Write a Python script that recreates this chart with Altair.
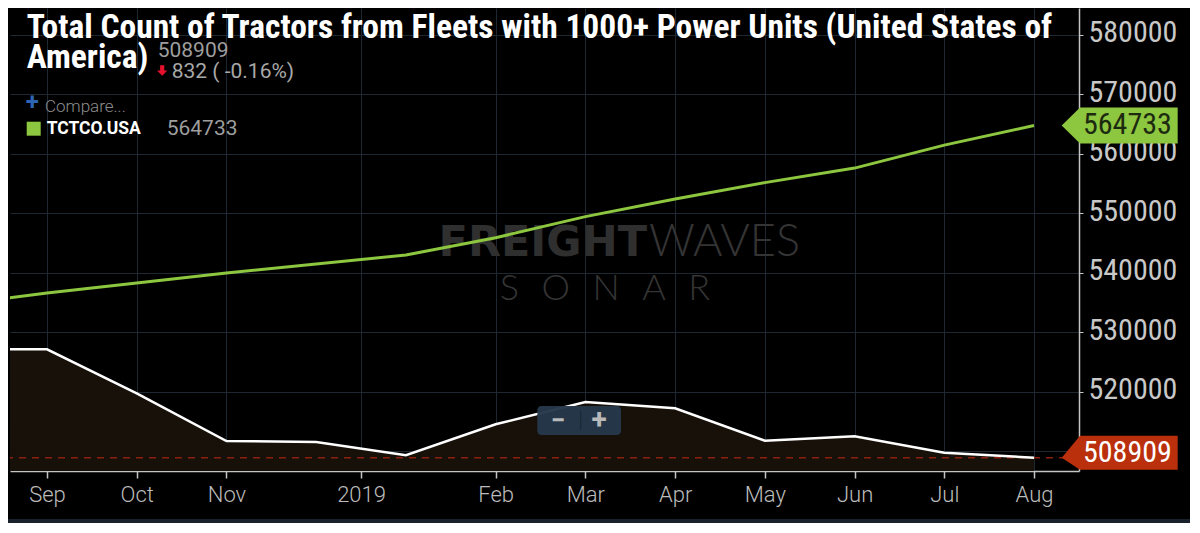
import altair as alt
import pandas as pd

# ---------------- data ----------------
month_labels = ["Aug", "Sep", "Oct", "Nov", "Dec", "Jan", "Feb", "Mar", "Apr", "May", "Jun", "Jul", "Aug"]
month_index = [-1, 0, 1, 2, 3, 4, 5, 6, 7, 8, 9, 10, 11]
main_values = [527130, 527130, 519730, 511710, 511540, 509310, 514520, 518270, 517210, 511760, 512500, 509741, 508909]
tctco_values = [534630, 536590, 538270, 539950, 541460, 542970, 545880, 549430, 552400, 555140, 557580, 561440, 564733]

tick_positions = [0, 1, 2, 3.5, 5, 6, 7, 8, 9, 10, 11]
tick_labels = ["Sep", "Oct", "Nov", "2019", "Feb", "Mar", "Apr", "May", "Jun", "Jul", "Aug"]
y_ticks = [510000, 520000, 530000, 540000, 550000, 560000, 570000, 580000]

title_lines = ["Total Count of Tractors from Fleets with 1000+ Power Units (United States of", "America)"]
compare_series = "TCTCO.USA"

# ---------------- derived ----------------
df = pd.DataFrame({"idx": month_index, "month": month_labels, "main": main_values, "tctco": tctco_values})
last_df = df.tail(1).reset_index(drop=True)
prev_v, last_v = main_values[-2], main_values[-1]
chg = last_v - prev_v
pct = chg / prev_v * 100
change_text = f"{abs(chg)} ( {pct:.2f}%)"

PLOT_W, PLOT_H = 1069, 463
NARROW = "'Liberation Sans Narrow', 'Roboto Condensed', Roboto, sans-serif"
ROBOTO = "Roboto, 'Open Sans', sans-serif"
GRID = "#1d2833"
AXIS_C = "#c4c4c4"

label_expr = ""
for p, l in zip(tick_positions, tick_labels):
    label_expr += f"datum.value == {p} ? '{l}' : "
label_expr += "''"

x_enc = alt.X(
    "idx:Q",
    scale=alt.Scale(domain=[-0.4124, 11.501], nice=False, zero=False),
    axis=alt.Axis(
        values=tick_positions, labelExpr=label_expr, title=None, grid=True, gridColor=GRID,
        domainColor=AXIS_C, domainWidth=1.5, tickColor=AXIS_C, tickSize=7, tickWidth=1.5,
        labelColor="#bcbcbc", labelFont=ROBOTO, labelFontSize=22, labelFontWeight=300,
        labelPadding=6, labelOverlap=False, labelFlush=False,
    ),
)
y_scale = alt.Scale(domain=[506670, 584490], nice=False, zero=False)
y_axis = alt.Axis(
    orient="right", values=y_ticks, format="d", title=None, grid=True, gridColor=GRID,
    domainColor=AXIS_C, domainWidth=1.5, tickColor=AXIS_C, tickSize=4,
    labelColor="#c8c8c8", labelFont=NARROW, labelFontSize=30, labelPadding=5, labelOverlap=False,
    labelFlush=False, labelOffset=-2,
)
y_main = alt.Y("main:Q", scale=y_scale, axis=y_axis)
y_tct = alt.Y("tctco:Q", scale=y_scale, axis=y_axis)

one = pd.DataFrame({"t": [""]})


def label(text, x, y, **kw):
    d = pd.DataFrame({"t": [text]})
    return alt.Chart(d).mark_text(**kw).encode(x=alt.value(x), y=alt.value(y), text="t:N")


layers = []

# area under main series (carries both axes)
area = alt.Chart(df).mark_area(
    clip=True,
    color=alt.Gradient(gradient="linear", x1=1, x2=1, y1=0, y2=1,
                       stops=[alt.GradientStop(color="#171109", offset=0),
                              alt.GradientStop(color="#0b0806", offset=1)]),
).encode(x=x_enc, y=y_main, y2=alt.value(PLOT_H))
layers.append(area)

# watermark
layers.append(label("FREIGHT", 637, 248, align="right", baseline="alphabetic",
                    font="'DejaVu Sans', sans-serif", fontWeight="bold", fontSize=43, color="#2f2f2f"))
layers.append(label("WAVES", 639, 248, align="left", baseline="alphabetic",
                    font="Lato, 'DejaVu Sans', sans-serif", fontWeight=300, fontSize=45, color="#343434"))
layers.append(label("S\u2002\u2009O\u2002\u2009N\u2002\u2009A\u2002\u2009R", 595, 292, align="center",
                    baseline="alphabetic", font="Lato, 'DejaVu Sans', sans-serif", fontWeight=300,
                    fontSize=36, color="#343434"))

# dashed last-value rule
layers.append(alt.Chart(last_df).mark_rule(color="#8b2010", strokeWidth=1.5, strokeDash=[7, 6])
              .encode(y=y_main))

# lines
layers.append(alt.Chart(df).mark_line(clip=True, color="#8dc63f", strokeWidth=3).encode(x=x_enc, y=y_tct))
layers.append(alt.Chart(df).mark_line(clip=True, color="#ffffff", strokeWidth=2.5).encode(x=x_enc, y=y_main))

# zoom buttons
layers.append(alt.Chart(one).mark_rect(cornerRadius=4, color="#25384a", opacity=0.97)
              .encode(x=alt.value(527.3), x2=alt.value(611), y=alt.value(398), y2=alt.value(427)))
layers.append(alt.Chart(one).mark_rule(color="#1a2733", strokeWidth=1)
              .encode(x=alt.value(570.7), y=alt.value(403), y2=alt.value(422)))
layers.append(label("\u2212", 548, 413, align="center", baseline="middle", font=ROBOTO,
                    fontWeight="bold", fontSize=26, color="#b9b9b9"))
layers.append(label("+", 589, 413, align="center", baseline="middle", font=ROBOTO,
                    fontWeight="bold", fontSize=28, color="#b9b9b9"))

# value tags on the right
green_tag = "M -1 0 L -0.684 -0.31 L 1 -0.31 L 1 0.31 L -0.684 0.31 Z"
red_tag = "M -1 0 L -0.684 -0.38 L 1 -0.38 L 1 0.21 L -0.684 0.21 Z"
layers.append(alt.Chart(last_df).mark_point(shape=green_tag, size=13456, filled=True, opacity=1,
                                            color="#8dc63f", strokeWidth=0)
              .encode(x=alt.value(1109.7), y=y_tct))
layers.append(alt.Chart(last_df).mark_text(align="left", baseline="middle", font=NARROW, fontSize=30,
                                           color="#1c2b10", dy=-1)
              .encode(x=alt.value(1073), y=y_tct, text=alt.Text("tctco:Q", format="d")))
layers.append(alt.Chart(last_df).mark_point(shape=red_tag, size=13456, filled=True, opacity=1,
                                            color="#bb300c", strokeWidth=0)
              .encode(x=alt.value(1109.7), y=y_main))
layers.append(alt.Chart(last_df).mark_text(align="left", baseline="middle", font=NARROW, fontSize=30,
                                           color="#ffffff", dy=-5)
              .encode(x=alt.value(1073), y=y_main, text=alt.Text("main:Q", format="d")))

# title and legend block
layers.append(label(title_lines[0], 16.7, 29.5, align="left", baseline="alphabetic", font=NARROW,
                    fontWeight="bold", fontSize=33.5, color="#ffffff"))
layers.append(label(title_lines[1], 16.7, 60, align="left", baseline="alphabetic", font=NARROW,
                    fontWeight="bold", fontSize=33.5, color="#ffffff"))
layers.append(alt.Chart(last_df).mark_text(align="left", baseline="alphabetic", font=ROBOTO, fontSize=21,
                                           color="#9e9e9e")
              .encode(x=alt.value(147.7), y=alt.value(49.3), text=alt.Text("main:Q", format="d")))
arrow = "M -0.4 -1 L 0.4 -1 L 0.4 0 L 1 0 L 0 1 L -1 0 L -0.4 0 Z"
layers.append(alt.Chart(one).mark_point(shape=arrow, size=110, filled=True, opacity=1, color="#e8112d",
                                        strokeWidth=0)
              .encode(x=alt.value(152.2), y=alt.value(62.5)))
layers.append(label(change_text, 161.7, 70.3, align="left", baseline="alphabetic", font=ROBOTO,
                    fontSize=21, color="#a8a8a8"))
layers.append(label("+", 22.2, 95.3, align="center", baseline="middle", font=ROBOTO, fontWeight="bold",
                    fontSize=24, color="#2d64b4"))
layers.append(label("Compare...", 35, 103.7, align="left", baseline="alphabetic", font=ROBOTO,
                    fontWeight=300, fontSize=17, color="#8c8c8c"))
layers.append(alt.Chart(one).mark_square(size=196, color="#8dc63f", opacity=1)
              .encode(x=alt.value(23.7), y=alt.value(120.7)))
layers.append(label(compare_series, 36.7, 126.3, align="left", baseline="alphabetic", font=ROBOTO,
                    fontWeight="bold", fontSize=17.5, color="#ffffff"))
layers.append(alt.Chart(last_df).mark_text(align="left", baseline="alphabetic", font=ROBOTO, fontSize=21,
                                           color="#9e9e9e")
              .encode(x=alt.value(156.7), y=alt.value(127), text=alt.Text("tctco:Q", format="d")))

# bottom navy strip
layers.append(alt.Chart(one).mark_rect(color="#19222c")
              .encode(x=alt.value(-2), x2=alt.value(1180), y=alt.value(511), y2=alt.value(517)))

chart = alt.layer(*layers).properties(
    width=PLOT_W, height=PLOT_H,
    padding={"left": 2, "top": 0, "right": 111, "bottom": 52},
    autosize=alt.AutoSizeParams(type="none"),
    background="#000000",
).configure_view(stroke=None)

chart.save("out.html", embed_options={"renderer": "svg", "actions": False})
